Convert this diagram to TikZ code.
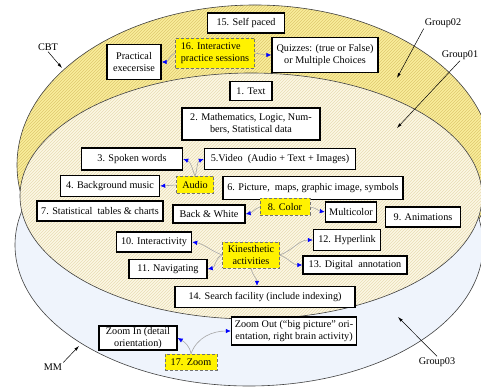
\documentclass[tikz,border=0pt]{standalone}
\usepackage{fontspec}
\setmainfont{Liberation Serif}
\usetikzlibrary{patterns,arrows.meta}

\definecolor{cbtyellow}{RGB}{250,238,155}
\definecolor{cbthatch}{RGB}{222,200,110}
\definecolor{grpyellow}{RGB}{252,248,228}
\definecolor{grphatch}{RGB}{232,220,180}
\definecolor{mmblue}{RGB}{239,244,252}

\tikzset{
	box/.style={draw, line width=1.4pt, fill=white, align=center, inner sep=1pt, font=\fontsize{10.2}{12}\selectfont},
	ybox/.style={draw=black!55, densely dashed, line width=0.5pt, fill=yellow, align=center, inner sep=1pt, font=\fontsize{10.2}{12}\selectfont},
	link/.style={draw=black!35, line width=0.6pt, -{Latex[length=5pt,width=4.5pt,color=blue]}},
	lbl/.style={line width=0.5pt, -{Latex[length=5pt,width=3pt]}},
	tag/.style={inner sep=1pt, font=\fontsize{10.2}{12}\selectfont},
}

\begin{document}
\begin{tikzpicture}[x=1pt,y=1pt]
			%%%%% START %%%%%
			\useasboundingbox (0,0) rectangle (481,388);
			\clip (0,0) rectangle (481,388);
			
			% the three groups
			\draw[black!75, line width=0.6pt, preaction={fill=cbtyellow}, pattern=north east lines, pattern color=cbthatch] (255,223) ellipse [x radius=238pt, y radius=160pt];
			\draw[black!75, line width=0.6pt, fill=mmblue] (249,143) ellipse [x radius=234pt, y radius=141pt];
			\draw[black!75, line width=0.6pt, preaction={fill=grpyellow}, pattern=north east lines, pattern color=grphatch] (251,192) ellipse [x radius=231pt, y radius=123pt];
			
			% CBT part
			\node[box, minimum width=77pt, minimum height=20pt] (t15) at (246,365) {15. Self paced};
			\node[ybox, minimum width=79pt, minimum height=30pt, align=left] (t16) at (215,335) {16. Interactive\\practice sessions};
			\node[box, minimum width=54pt, minimum height=35pt] (prac) at (134,326) {Practical\\execersise};
			\node[box, minimum width=106pt, minimum height=35pt] (quiz) at (325,333) {Quizzes: (true or False)\\or Multiple Choices};
			\draw[link] (t16.west) to[out=200, in=0] (prac.east);
			\draw[link] (t16.east) to[out=-10, in=180] (quiz.west);
			
			% Group01 part
			\node[box, minimum width=42pt, minimum height=19pt] (t1) at (251,297) {1. Text};
			\node[box, minimum width=138pt, minimum height=32pt] (t2) at (251,264) {2. Mathematics, Logic, Num-\\bers, Statistical data};
			\node[box, minimum width=101pt, minimum height=22pt] (t3) at (132,229) {3. Spoken words};
			\node[box, minimum width=151pt, minimum height=21pt] (t5) at (280,229) {5.Video\ \ (Audio + Text + Images)};
			\node[box, minimum width=99pt, minimum height=21pt] (t4) at (110,202) {4. Background music};
			\node[ybox, minimum width=37pt, minimum height=17pt] (audio) at (195,203) {Audio};
			\node[box, minimum width=180pt, minimum height=23pt] (t6) at (313,200) {6. Picture,\ \ maps, graphic image, symbols};
			\node[box, minimum width=126pt, minimum height=20pt] (t7) at (100,177) {7. Statistical\ \ tables \& charts};
			\node[box, minimum width=72pt, minimum height=18pt] (bw) at (209,174) {Back \& White};
			\node[ybox, minimum width=50pt, minimum height=17pt] (color) at (285,181) {8. Color};
			\node[box, minimum width=51pt, minimum height=20pt] (multi) at (351,176) {Multicolor};
			\node[box, minimum width=75pt, minimum height=20pt] (t9) at (423,171) {9. Animations};
			\node[box, minimum width=75pt, minimum height=20pt] (t10) at (154,146) {10. Interactivity};
			\node[ybox, minimum width=57pt, minimum height=26pt] (kin) at (251,133) {Kinesthetic\\activities};
			\node[box, minimum width=67pt, minimum height=21pt] (t12) at (347,148) {12. Hyperlink};
			\node[box, minimum width=78pt, minimum height=19pt] (t11) at (168,119) {11. Navigating};
			\node[box, minimum width=104pt, minimum height=18pt] (t13) at (355,123) {13. Digital\ \ annotation};
			\node[box, minimum width=180pt, minimum height=21pt] (t14) at (265,91) {14. Search facility (include indexing)};
			\draw[link] (audio.west) -- (t4.east);
			\draw[link] (audio.north) to[out=110, in=-20] (t3.east);
			\draw[link] (audio.north) to[out=70, in=200] (t5.west);
			\draw[link] (color.west) to[out=200, in=10] (bw.east);
			\draw[link] (color.east) to[out=-10, in=170] (multi.west);
			\draw[link] (kin.west) to[out=160, in=-10] (t10.east);
			\draw[link] (kin.west) to[out=200, in=10] (t11.east);
			\draw[link] (kin.east) to[out=20, in=180] (t12.west);
			\draw[link] (kin.east) to[out=-20, in=180] (t13.west);
			\draw[link] (kin.south) to[out=-80, in=90] ([xshift=-8pt]t14.north);
			
			% MM part
			\node[box, minimum width=78pt, minimum height=24pt] (zin) at (138,50) {Zoom In (detail\\orientation)};
			\node[ybox, minimum width=52pt, minimum height=16pt] (zoom) at (191,26) {17. Zoom};
			\node[box, minimum width=125pt, minimum height=28pt] (zout) at (294,57) {Zoom Out (“big picture” ori-\\entation, right brain activity)};
			\draw[link] (zoom.north) to[out=100, in=-30] (zin.east);
			\draw[link] (zoom.north) to[out=70, in=180] (zout.west);
			
			% group labels
			\node[tag] (cbt) at (48,341) {CBT};
			\coordinate (cbtpt) at (62,320);
			\draw[lbl] (cbt.south) -- (cbtpt);
			\node[tag] (gr2) at (443,365) {Group02};
			\coordinate (gr2pt) at (397,310);
			\draw[lbl] (gr2.south west) -- (gr2pt);
			\node[tag] (gr1) at (460,333) {Group01};
			\coordinate (gr1pt) at (397,260);
			\draw[lbl] (gr1.south) -- (gr1pt);
			\node[tag] (gr3) at (437,26) {Group03};
			\coordinate (gr3pt) at (398,71);
			\draw[lbl] (gr3.north) -- (gr3pt);
			\node[tag] (mm) at (53,21) {MM};
			\coordinate (mmpt) at (79,42);
			\draw[lbl] (mm.north east) -- (mmpt);
			
			%%%%% END %%%%%
\end{tikzpicture}
\end{document}
